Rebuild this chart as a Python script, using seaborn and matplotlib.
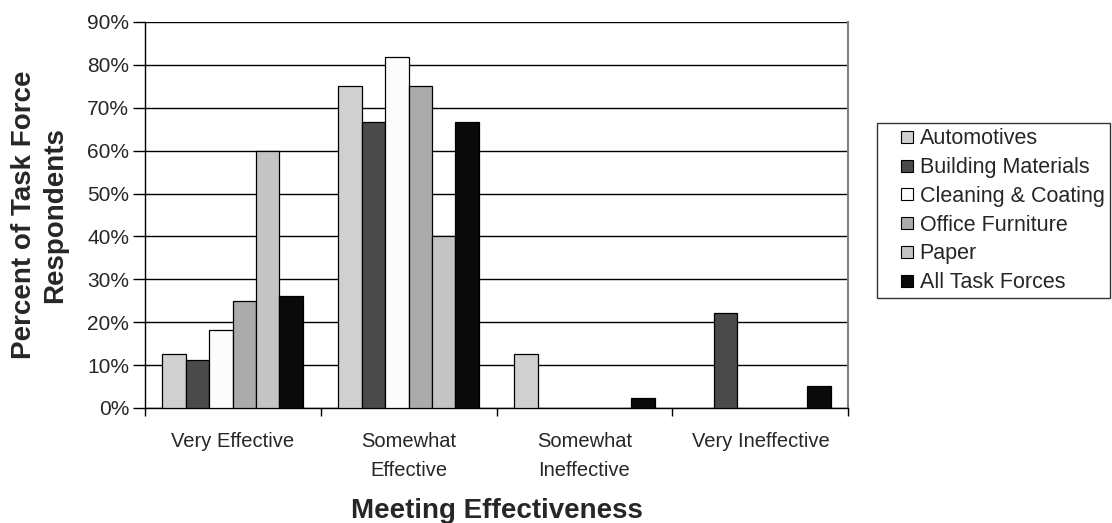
import pandas as pd
import matplotlib.pyplot as plt
import seaborn as sns
from matplotlib.lines import Line2D
from matplotlib.ticker import PercentFormatter, FixedLocator

# Chart values (percent of respondents)
categories = ['Very Effective', 'Somewhat\nEffective', 'Somewhat\nIneffective', 'Very Ineffective']
groups = ['Automotives', 'Building Materials', 'Cleaning & Coating',
          'Office Furniture', 'Paper', 'All Task Forces']
automotives = [12.5, 75.0, 12.5, 0.0]
building = [11.1, 66.7, 0.0, 22.2]
cleaning = [18.2, 81.8, 0.0, 0.0]
office = [25.0, 75.0, 0.0, 0.0]
paper = [60.0, 40.0, 0.0, 0.0]
all_tf = [26.2, 66.7, 2.4, 5.0]
colors = ['#d0d0d0', '#4a4a4a', '#fcfcfc', '#ababab', '#c4c4c4', '#0a0a0a']

series = [automotives, building, cleaning, office, paper, all_tf]
rows = []
for g, vals in zip(groups, series):
    for c, v in zip(categories, vals):
        rows.append({'category': c, 'group': g, 'value': v})
df = pd.DataFrame(rows)

sns.set_style('white')
plt.rcParams['font.family'] = ['Liberation Sans', 'DejaVu Sans']

fig = plt.figure(figsize=(11.12, 5.23), dpi=100)
ax = fig.add_axes([0.130, 0.220, 0.633, 0.738])

sns.barplot(data=df, x='category', y='value', hue='group', hue_order=groups,
            palette=colors, width=0.8, edgecolor='black', linewidth=0.9,
            saturation=1, ax=ax, legend=False, zorder=3)
# empty bars show nothing
for p in ax.patches:
    if p.get_height() == 0:
        p.set_linewidth(0)

ax.set_ylim(0, 90)
ax.set_xlim(-0.5, 3.5)
ax.set_yticks(range(0, 91, 10))
ax.yaxis.set_major_formatter(PercentFormatter(decimals=0))
ax.yaxis.grid(True, color='black', linewidth=1)
ax.set_axisbelow(True)

ax.xaxis.set_minor_locator(FixedLocator([-0.5, 0.5, 1.5, 2.5, 3.5]))
ax.tick_params(axis='x', which='major', length=0, pad=17)
ax.tick_params(axis='x', which='minor', length=6, width=1, color='black', direction='out', bottom=True)
ax.tick_params(axis='y', length=9, width=1, color='black', direction='out', left=True,
               labelsize=15, pad=2)
for lbl in ax.get_xticklabels():
    lbl.set_fontsize(14.5)
    lbl.set_linespacing(1.68)

for s in ['left', 'bottom']:
    ax.spines[s].set_color('black')
    ax.spines[s].set_linewidth(1)
ax.spines['right'].set_color('#808080')
ax.spines['right'].set_linewidth(1.5)
ax.spines['top'].set_visible(False)

ax.set_xlabel('Meeting Effectiveness', fontsize=20, fontweight='bold', labelpad=13)
ax.set_ylabel('Percent of Task Force\nRespondents', fontsize=20, fontweight='bold',
              labelpad=14, linespacing=1.25)

handles = [Line2D([], [], linestyle='none', marker='s', markersize=9,
                  markerfacecolor=c, markeredgecolor='black', markeredgewidth=0.8)
           for c in colors]
leg = fig.legend(handles, groups, loc='upper left', bbox_to_anchor=(0.789, 0.765),
                 frameon=True, fancybox=False, fontsize=15.5, handlelength=2.29,
                 handletextpad=-0.58, labelspacing=0.36,
                 borderpad=0.25, borderaxespad=0, edgecolor='black')
leg.get_frame().set_linewidth(1)

fig.savefig('out.png', dpi=100)
